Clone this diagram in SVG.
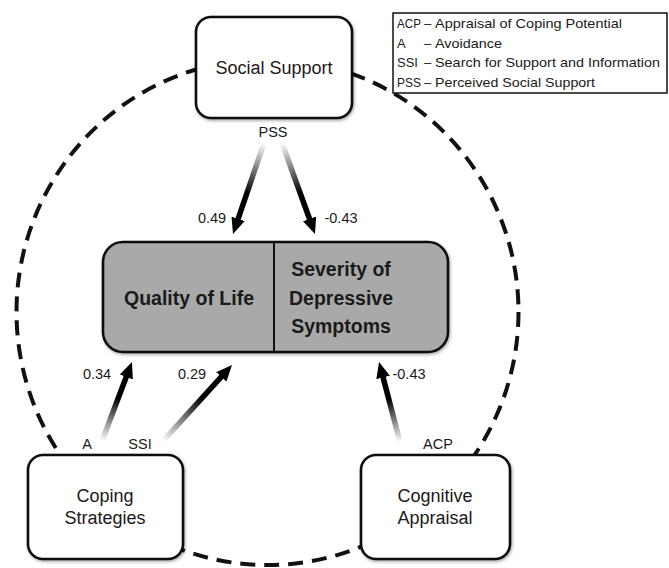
<svg xmlns="http://www.w3.org/2000/svg" width="669" height="568" viewBox="0 0 669 568">
<style>
.box{fill:#fff;stroke:#111;stroke-width:2.6}
.main{fill:#a9a9a9;stroke:#111;stroke-width:2.6}
.t{font-family:"Liberation Sans",Arial,sans-serif;fill:#1a1a1a;text-anchor:middle}
.node{font-size:18px}
.bold{font-size:19.5px;font-weight:bold}
.lab{font-size:14.5px}
.leg{font-family:"Liberation Sans",Arial,sans-serif;font-size:13px;fill:#1a1a1a}
.arr{fill:none;stroke-width:5.5;marker-end:url(#head)}
</style>
<defs>
<filter id="sh" x="-10%" y="-10%" width="120%" height="130%">
<feDropShadow dx="1" dy="1.5" stdDeviation="1.5" flood-color="#000" flood-opacity="0.35"/>
</filter>
<marker id="head" markerUnits="userSpaceOnUse" markerWidth="18" markerHeight="14" refX="2" refY="7" orient="auto">
<path d="M0,0 L16,7 L0,14 z" fill="#000"/>
</marker>
<linearGradient id="g1" gradientUnits="userSpaceOnUse" x1="264" y1="143" x2="237.5" y2="220.7"><stop offset="0" stop-color="#fff"/><stop offset="0.65" stop-color="#000"/></linearGradient>
<linearGradient id="g2" gradientUnits="userSpaceOnUse" x1="282" y1="143" x2="310.2" y2="220.8"><stop offset="0" stop-color="#fff"/><stop offset="0.65" stop-color="#000"/></linearGradient>
<linearGradient id="g3" gradientUnits="userSpaceOnUse" x1="102" y1="441" x2="127" y2="375.1"><stop offset="0" stop-color="#fff"/><stop offset="0.65" stop-color="#000"/></linearGradient>
<linearGradient id="g4" gradientUnits="userSpaceOnUse" x1="163" y1="441" x2="222.6" y2="375.4"><stop offset="0" stop-color="#fff"/><stop offset="0.65" stop-color="#000"/></linearGradient>
<linearGradient id="g5" gradientUnits="userSpaceOnUse" x1="400" y1="442" x2="382.6" y2="375.5"><stop offset="0" stop-color="#fff"/><stop offset="0.65" stop-color="#000"/></linearGradient>
</defs>
<rect width="669" height="568" fill="#fff"/>
<g id="connectors">
<ellipse id="moderation" cx="267.5" cy="312" rx="251" ry="253" fill="none" stroke="#111" stroke-width="4" stroke-dasharray="15 9"/>
<line class="arr" x1="264" y1="143" x2="237.5" y2="220.7" stroke="url(#g1)"/>
<line class="arr" x1="282" y1="143" x2="310.2" y2="220.8" stroke="url(#g2)"/>
<line class="arr" x1="102" y1="441" x2="127" y2="375.1" stroke="url(#g3)"/>
<line class="arr" x1="163" y1="441" x2="222.6" y2="375.4" stroke="url(#g4)"/>
<line class="arr" x1="400" y1="442" x2="382.6" y2="375.5" stroke="url(#g5)"/>
<text class="t lab" x="273" y="137">PSS</text>
<text class="t lab" x="212" y="223">0.49</text>
<text class="t lab" x="341" y="223">-0.43</text>
<text class="t lab" x="97" y="379">0.34</text>
<text class="t lab" x="192" y="379">0.29</text>
<text class="t lab" x="409" y="379">-0.43</text>
<text class="t lab" x="87" y="449">A</text>
<text class="t lab" x="140" y="449">SSI</text>
<text class="t lab" x="438" y="449">ACP</text>
</g>
<g id="social-support">
<rect class="box" x="196" y="17" width="156" height="101" rx="15" filter="url(#sh)"/>
<text class="t node" x="274" y="74">Social Support</text>
</g>
<g id="outcomes">
<rect class="main" x="103" y="242" width="345" height="110" rx="20" filter="url(#sh)"/>
<line x1="274" y1="242" x2="274" y2="352" stroke="#111" stroke-width="2"/>
<text class="t bold" x="189" y="305">Quality of Life</text>
<text class="t bold" x="341" y="276">Severity of</text>
<text class="t bold" x="341" y="305">Depressive</text>
<text class="t bold" x="341" y="333">Symptoms</text>
</g>
<g id="coping-strategies">
<rect class="box" x="28" y="455" width="155" height="104" rx="15" filter="url(#sh)"/>
<text class="t node" x="105" y="502">Coping</text>
<text class="t node" x="105" y="524">Strategies</text>
</g>
<g id="cognitive-appraisal">
<rect class="box" x="361" y="455" width="149" height="104" rx="15" filter="url(#sh)"/>
<text class="t node" x="435" y="502">Cognitive</text>
<text class="t node" x="435" y="524">Appraisal</text>
</g>
<g id="legend">
<rect x="393" y="13" width="274" height="80" fill="#fff" stroke="#111" stroke-width="1.5"/>
<text class="leg" x="397" y="28" textLength="24" lengthAdjust="spacingAndGlyphs">ACP</text>
<text class="leg" x="397" y="47.5">A</text>
<text class="leg" x="397" y="67">SSI</text>
<text class="leg" x="397" y="86.5" textLength="24" lengthAdjust="spacingAndGlyphs">PSS</text>
<text class="leg" x="424" y="28">–</text>
<text class="leg" x="424" y="47.5">–</text>
<text class="leg" x="424" y="67">–</text>
<text class="leg" x="424" y="86.5">–</text>
<text class="leg" x="435" y="28" textLength="187" lengthAdjust="spacingAndGlyphs">Appraisal of Coping Potential</text>
<text class="leg" x="435" y="47.5" textLength="67" lengthAdjust="spacingAndGlyphs">Avoidance</text>
<text class="leg" x="435" y="67" textLength="225" lengthAdjust="spacingAndGlyphs">Search for Support and Information</text>
<text class="leg" x="435" y="86.5" textLength="160" lengthAdjust="spacingAndGlyphs">Perceived Social Support</text>
</g>
</svg>
